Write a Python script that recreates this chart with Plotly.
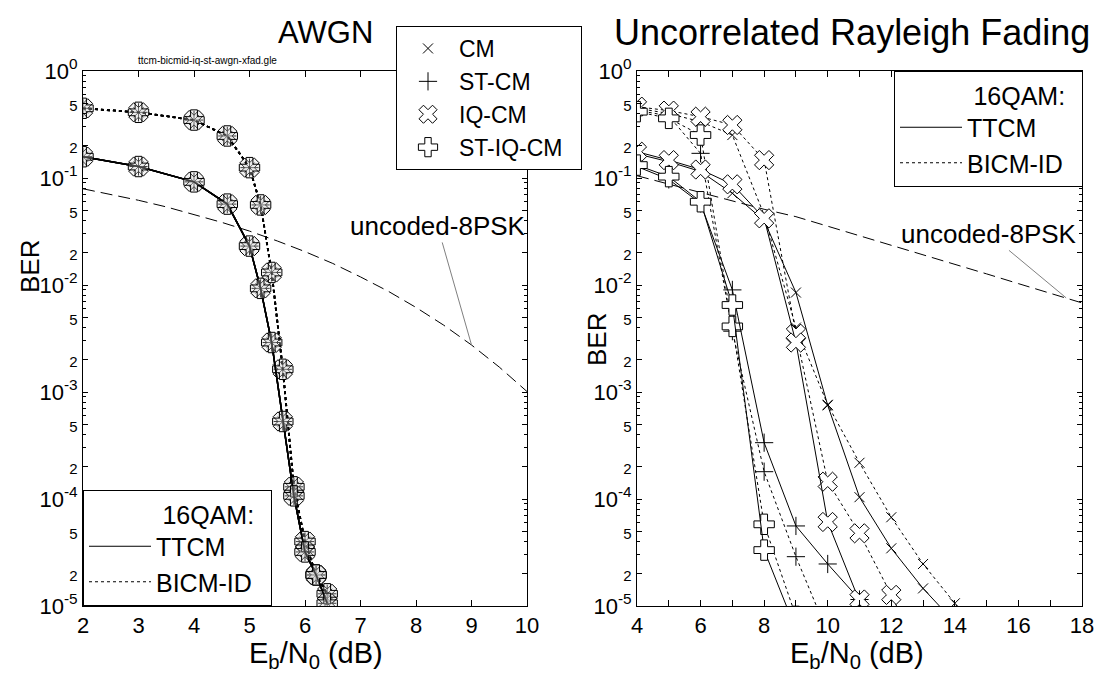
import plotly.graph_objects as go

W, H = 1096, 673


def px(x):
    return x / W


def py(y):
    return 1 - y / H


FONT = "Liberation Sans, Arial, sans-serif"

# ---------------- AWGN panel data ----------------
awgn_ttcm_snr = [2, 3, 4, 4.6, 5.0, 5.2, 5.4, 5.6, 5.8, 6.0, 6.2, 6.4]
awgn_ttcm_ber = [0.158, 0.128, 0.092, 0.057, 0.0231, 0.0093, 0.0029, 5.3e-4, 1.07e-4, 3.2e-5, 1.95e-5, 1.06e-5]
awgn_bicm_snr = [2, 3, 4, 4.6, 5.0, 5.2, 5.4, 5.6, 5.8, 6.0, 6.2, 6.4]
awgn_bicm_ber = [0.448, 0.411, 0.348, 0.247, 0.125, 0.056, 0.0131, 0.00163, 1.3e-4, 4.0e-5, 1.95e-5, 1.3e-5]
awgn_unc_snr = [2, 2.5, 3, 3.5, 4, 4.5, 5, 5.5, 6, 6.5, 7, 7.5, 8, 8.5, 9, 9.5, 10]
awgn_unc_ber = [0.0793, 0.0704, 0.0619, 0.0537, 0.0458, 0.0385, 0.0319, 0.0258, 0.0205,
                0.0159, 0.0119, 0.00874, 0.00617, 0.00421, 0.00275, 0.00171, 0.00101]

# ---------------- Rayleigh panel data ----------------
ray_ttcm_cm_snr = [4, 5, 6, 7, 8, 9, 10, 11, 12, 13, 14, 15]
ray_ttcm_cm_ber = [0.168, 0.142, 0.115, 0.072, 0.040, 0.0085, 7.5e-4, 1.04e-4, 3.46e-5, 1.46e-5, 7.0e-6, 3.0e-6]
ray_ttcm_st_snr = [4, 5, 6, 7, 8, 9, 10, 11, 12]
ray_ttcm_st_ber = [0.128, 0.097, 0.058, 0.0090, 3.36e-4, 5.6e-5, 2.47e-5, 1.15e-5, 5.0e-6]
ray_ttcm_iq_snr = [4, 5, 6, 7, 8, 9, 10, 11, 12]
ray_ttcm_iq_ber = [0.176, 0.147, 0.120, 0.0873, 0.042, 0.0029, 6.1e-5, 1.15e-5, 2.0e-6]
ray_ttcm_stiq_snr = [4, 5, 6, 7, 8, 9]
ray_ttcm_stiq_ber = [0.132, 0.103, 0.060, 0.0065, 3.33e-5, 6.0e-6]

ray_bicm_cm_snr = [4, 5, 6, 7, 8, 9, 10, 11, 12, 13, 14, 15]
ray_bicm_cm_ber = [0.45, 0.40, 0.336, 0.252, 0.045, 0.004, 7.6e-4, 2.18e-4, 6.75e-5, 2.47e-5, 1.06e-5, 4.0e-6]
ray_bicm_st_snr = [4, 5, 6, 7, 8, 9, 10]
ray_bicm_st_ber = [0.43, 0.38, 0.170, 0.0037, 1.8e-4, 2.89e-5, 5.6e-6]
ray_bicm_iq_snr = [4, 5, 6, 7, 8, 9, 10, 11, 12, 13]
ray_bicm_iq_ber = [0.464, 0.426, 0.374, 0.313, 0.147, 0.0035, 1.45e-4, 4.78e-5, 1.27e-5, 3.0e-6]
ray_bicm_stiq_snr = [4, 5, 6, 7, 8, 9]
ray_bicm_stiq_ber = [0.417, 0.361, 0.252, 0.0041, 5.8e-5, 8.0e-6]

ray_unc_snr = [4, 5, 6, 7, 8, 9, 10, 11, 12, 13, 14, 15, 16, 17, 18]
ray_unc_ber = [0.105, 0.088, 0.073, 0.061, 0.051, 0.0435, 0.0355, 0.029, 0.0235, 0.0192,
               0.0155, 0.0127, 0.0103, 0.0084, 0.0068]

mappings = ["CM", "ST-CM", "IQ-CM", "ST-IQ-CM"]
schemes = ["TTCM", "BICM-ID"]

# y tick labels
decades = [1e-5, 1e-4, 1e-3, 1e-2, 1e-1, 1]
decade_labels = ["10<sup>-5</sup>", "10<sup>-4</sup>", "10<sup>-3</sup>", "10<sup>-2</sup>",
                 "10<sup>-1</sup>", "10<sup>0</sup>"]
minor_digits = [2, 5]

tickvals, ticktext = [], []
for i, d in enumerate(decades):
    tickvals.append(d)
    ticktext.append(decade_labels[i])
    if d < 1:
        for m in minor_digits:
            tickvals.append(d * m)
            ticktext.append('<span style="font-size:15px">%d</span>' % m)


def marker_style(mapping, fill):
    if mapping == "CM":
        return dict(symbol="x-thin", size=10, line=dict(width=1, color="black"), color="black")
    if mapping == "ST-CM":
        return dict(symbol="cross-thin", size=13, line=dict(width=1, color="black"), color="black")
    if mapping == "IQ-CM":
        return dict(symbol="x", size=17, line=dict(width=1, color="black"), color=fill)
    return dict(symbol="cross", size=17, line=dict(width=1, color="black"), color=fill)


fig = go.Figure()

# uncoded reference curves
fig.add_trace(go.Scatter(x=awgn_unc_snr, y=awgn_unc_ber, mode="lines",
                         line=dict(color="black", width=1, dash="12px,6px"),
                         showlegend=False, xaxis="x", yaxis="y"))
fig.add_trace(go.Scatter(x=ray_unc_snr, y=ray_unc_ber, mode="lines",
                         line=dict(color="black", width=1, dash="12px,6px"),
                         showlegend=False, xaxis="x2", yaxis="y2"))

# AWGN panel: all four mappings coincide
for mp in mappings:
    fig.add_trace(go.Scatter(x=awgn_bicm_snr, y=awgn_bicm_ber, mode="lines+markers",
                             line=dict(color="black", width=1.8, dash="dot"),
                             marker=marker_style(mp, "rgba(215,215,215,0.3)"),
                             showlegend=False, xaxis="x", yaxis="y"))
    fig.add_trace(go.Scatter(x=awgn_ttcm_snr, y=awgn_ttcm_ber, mode="lines+markers",
                             line=dict(color="black", width=1.5),
                             marker=marker_style(mp, "rgba(215,215,215,0.3)"),
                             showlegend=False, xaxis="x", yaxis="y"))

# Rayleigh panel
ray_series = [
    ("BICM-ID", "CM", ray_bicm_cm_snr, ray_bicm_cm_ber),
    ("BICM-ID", "ST-CM", ray_bicm_st_snr, ray_bicm_st_ber),
    ("BICM-ID", "IQ-CM", ray_bicm_iq_snr, ray_bicm_iq_ber),
    ("BICM-ID", "ST-IQ-CM", ray_bicm_stiq_snr, ray_bicm_stiq_ber),
    ("TTCM", "CM", ray_ttcm_cm_snr, ray_ttcm_cm_ber),
    ("TTCM", "ST-CM", ray_ttcm_st_snr, ray_ttcm_st_ber),
    ("TTCM", "IQ-CM", ray_ttcm_iq_snr, ray_ttcm_iq_ber),
    ("TTCM", "ST-IQ-CM", ray_ttcm_stiq_snr, ray_ttcm_stiq_ber),
]
for sch, mp, xs, ys in ray_series:
    fig.add_trace(go.Scatter(
        x=xs, y=ys, mode="lines+markers",
        line=dict(color="black", width=1, dash="dot" if sch == "BICM-ID" else "solid"),
        marker=marker_style(mp, "white"),
        showlegend=False, xaxis="x2", yaxis="y2", cliponaxis=True))

# legend entries: mapping markers
for mp in mappings:
    nm = mp + ("\u00a0\u00a0" if mp == "ST-IQ-CM" else "")
    fig.add_trace(go.Scatter(x=[None], y=[None], mode="markers", name=nm,
                             marker=marker_style(mp, "white"),
                             legend="legend", xaxis="x", yaxis="y"))
# legend entries: schemes (two boxes)
for lg in ["legend2", "legend3"]:
    fig.add_trace(go.Scatter(x=[None], y=[None], mode="lines", name="TTCM",
                             line=dict(color="black", width=1), legend=lg,
                             xaxis="x", yaxis="y"))
    fig.add_trace(go.Scatter(x=[None], y=[None], mode="lines", name="BICM-ID\u00a0\u00a0",
                             line=dict(color="black", width=1, dash="dot"), legend=lg,
                             xaxis="x", yaxis="y"))

axis_common = dict(showline=True, linecolor="black", linewidth=1, mirror="ticks",
                   ticks="inside", tickcolor="black", showgrid=False, zeroline=False,
                   automargin=False, tickfont=dict(family=FONT, size=22, color="black"))

xtitle = "E<sub>b</sub>/N<sub>0</sub> (dB)"

fig.update_layout(
    width=W, height=H,
    margin=dict(l=0, r=0, t=0, b=0),
    paper_bgcolor="white", plot_bgcolor="white",
    font=dict(family=FONT, color="black"),
    xaxis=dict(domain=[px(83), px(527)], range=[2, 10], dtick=1, ticklen=6,
               anchor="y", **axis_common),
    yaxis=dict(domain=[py(606), py(71)], type="log", range=[-5, 0],
               tickvals=tickvals, ticktext=ticktext, ticklen=5, anchor="x",
               minor=dict(ticks="inside", ticklen=3, dtick="D1", tickcolor="black"),
               **axis_common),
    xaxis2=dict(domain=[px(637), px(1082)], range=[4, 18], dtick=2, ticklen=6,
                anchor="y2", minor=dict(ticks="inside", ticklen=6, dtick=1, tickcolor="black"),
                **axis_common),
    yaxis2=dict(domain=[py(606), py(71)], type="log", range=[-5, 0],
                tickvals=tickvals, ticktext=ticktext, ticklen=5, anchor="x2",
                minor=dict(ticks="inside", ticklen=3, dtick="D1", tickcolor="black"),
                **axis_common),
    legend=dict(x=px(396), y=py(26), xanchor="left", yanchor="top",
                bgcolor="white", bordercolor="black", borderwidth=1,
                font=dict(size=23), itemwidth=52, tracegroupgap=0),
    legend2=dict(x=px(83), y=py(606), xanchor="left", yanchor="bottom",
                 bgcolor="white", bordercolor="black", borderwidth=1,
                 font=dict(size=25), itemwidth=62,
                 title=dict(text="\u00a0" * 11 + "16QAM:", font=dict(size=25))),
    legend3=dict(x=px(1083), y=py(71), xanchor="right", yanchor="top",
                 bgcolor="white", bordercolor="black", borderwidth=1,
                 font=dict(size=25), itemwidth=62,
                 title=dict(text="\u00a0" * 11 + "16QAM:", font=dict(size=25))),
    annotations=[
        dict(text="AWGN", x=px(325), y=py(32), xref="paper", yref="paper",
             xanchor="center", yanchor="middle", showarrow=False, font=dict(size=31)),
        dict(text="Uncorrelated Rayleigh Fading", x=px(852), y=py(32), xref="paper",
             yref="paper", xanchor="center", yanchor="middle", showarrow=False,
             font=dict(size=36)),
        dict(text="ttcm-bicmid-iq-st-awgn-xfad.gle", x=px(207), y=py(60), xref="paper",
             yref="paper", xanchor="center", yanchor="middle", showarrow=False,
             font=dict(size=10)),
        # axis titles
        dict(text=xtitle, x=px(316), y=py(655), xref="paper", yref="paper",
             xanchor="center", yanchor="middle", showarrow=False, font=dict(size=29)),
        dict(text=xtitle, x=px(857), y=py(655), xref="paper", yref="paper",
             xanchor="center", yanchor="middle", showarrow=False, font=dict(size=29)),
        dict(text="BER", x=px(30), y=py(267), xref="paper", yref="paper", textangle=-90,
             xanchor="center", yanchor="middle", showarrow=False, font=dict(size=26)),
        dict(text="BER", x=px(597), y=py(340), xref="paper", yref="paper", textangle=-90,
             xanchor="center", yanchor="middle", showarrow=False, font=dict(size=26)),
        # curve labels
        dict(text="uncoded-8PSK", x=9, y=-2.56, xref="x", yref="y", showarrow=True,
             arrowhead=0, arrowcolor="gray", arrowwidth=1, ax=-34, ay=-119,
             font=dict(size=26)),
        dict(text="uncoded-8PSK", x=17.5, y=-2.12, xref="x2", yref="y2", showarrow=True,
             arrowhead=0, arrowcolor="gray", arrowwidth=1, ax=-77, ay=-64,
             font=dict(size=26)),
    ],
)

fig.write_html("out.html", config={"displayModeBar": False},
               post_script="document.body.style.margin='0px';")
